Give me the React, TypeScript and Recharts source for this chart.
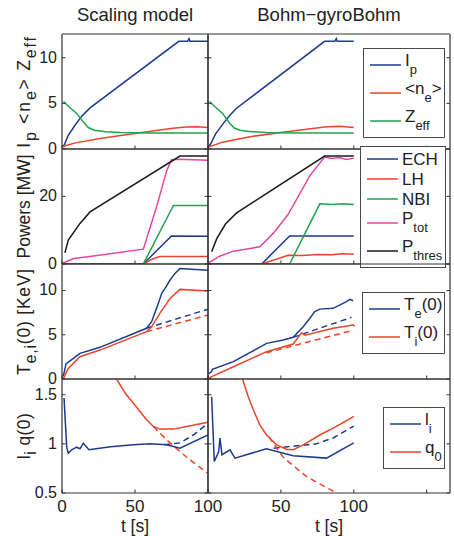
import React from 'react';
import { LineChart, Line, XAxis, YAxis, Legend } from 'recharts';

type Pt = [number, number];

// ---------- axes ----------
const T_TICKS_SCALING = [0, 50, 100];
const T_LABELS_SCALING = [0, 50, 100];
const T_TICKS_BGB = [0, 50, 100, 150];
const T_LABELS_BGB = [50, 100];
const T_DOMAIN_SCALING: [number, number] = [0, 100];
const T_DOMAIN_BGB: [number, number] = [0, 166];

const Y1_TICKS = [0, 5, 10];
const Y2_TICKS = [0, 20];
const Y3_TICKS = [0, 5, 10];
const Y4_TICKS = [0.5, 1, 1.5];

const COLUMN_TITLES = ['Scaling model', 'Bohm\u2212gyroBohm'];
const ROW_TITLES = ['I_{p} <n_{e}> Z_{eff}', 'Powers [MW]', 'T_{e,i}(0) [KeV]', 'l_{i} q(0)'];
const TIME_LABEL = 't [s]';

// ---------- row 1: plasma current, density, Zeff ----------
const IP_SCALING: Pt[] = [[0.5, 0.3], [1.6, 0.45], [4.3, 1.5], [8.9, 2.6], [13.5, 3.6], [19.2, 4.5], [80, 11.8], [86, 11.8], [87, 12.1], [87.6, 11.8], [100, 11.8]];
const NE_SCALING: Pt[] = [[0.5, 0.2], [2, 0.35], [10, 0.7], [26, 1.15], [51, 1.72], [76, 2.27], [85, 2.42], [93, 2.43], [100, 2.35]];
const ZEFF_SCALING: Pt[] = [[1, 5.2], [5, 4.6], [10, 3.9], [15, 2.9], [18, 2.35], [22, 2.05], [30, 1.9], [40, 1.82], [60, 1.76], [100, 1.75]];
const IP_BGB: Pt[] = [[0.5, 0.3], [1.8, 0.55], [5, 1.6], [10, 2.7], [15, 3.7], [19.6, 4.47], [80, 11.8], [87, 11.8], [88, 12.1], [88.6, 11.8], [100, 11.8]];
const NE_BGB: Pt[] = [[0.5, 0.2], [2, 0.3], [10, 0.75], [28.8, 1.35], [53.9, 1.9], [80, 2.42], [90, 2.48], [100, 2.35]];
const ZEFF_BGB: Pt[] = [[1, 5.2], [5, 4.6], [10, 3.9], [15, 2.8], [18, 2.3], [22, 2.05], [30, 1.9], [40, 1.82], [60, 1.76], [100, 1.75]];

// ---------- row 2: heating powers ----------
const ECH_SCALING: Pt[] = [[0, 0], [55.7, 0], [75, 8.3], [100, 8.2]];
const LH_SCALING: Pt[] = [[0, 0], [55.7, 0], [62, 1.5], [67, 2.2], [100, 2.25]];
const NBI_SCALING: Pt[] = [[0, 0], [55.7, 0], [76.3, 17.3], [100, 17.3]];
const PTOT_SCALING: Pt[] = [[0.5, 0.3], [2, 0.5], [8, 1.6], [19, 2.2], [55.7, 4.4], [64.8, 16.9], [71.7, 27.6], [75, 30.8], [80, 31.0], [100, 30.7]];
const PTHRES_SCALING: Pt[] = [[2, 3.3], [4.3, 7.1], [12.3, 12], [19.2, 15.4], [80.8, 31.9], [100, 31.9]];
const ECH_BGB: Pt[] = [[0, 0], [36.8, 0], [56, 8.3], [100, 8.3]];
const LH_BGB: Pt[] = [[0, 0], [36.8, 0], [55, 2.6], [65, 2.5], [75, 2.8], [85, 2.7], [92, 3.0], [100, 2.9]];
const NBI_BGB: Pt[] = [[0, 0], [56, 0], [76.7, 17.8], [85, 17.6], [92, 17.8], [100, 17.6]];
const PTOT_BGB: Pt[] = [[0.5, 0.4], [2, 0.8], [8, 2.3], [17.4, 3.8], [35.6, 5.1], [45, 9.2], [55, 14.7], [70, 26.2], [80, 31.6], [85, 31.2], [90, 31.5], [95, 30.9], [100, 31.3]];
const PTHRES_BGB: Pt[] = [[2.5, 3.6], [6, 7.5], [12, 11.8], [19.6, 15.1], [80, 31.9], [100, 31.9]];

// ---------- row 3: central temperatures ----------
const TE_SCALING: Pt[] = [[0.5, 0.3], [1.4, 0.64], [2.7, 1.7], [12.3, 2.9], [26, 3.58], [57.9, 5.73], [61.4, 6.48], [66, 8.55], [68.3, 9.68], [70.6, 10.25], [74, 11.19], [77.4, 11.94], [80.8, 12.5], [100, 12.3]];
const TI_SCALING: Pt[] = [[0.5, 0.05], [1.4, 0.2], [4.3, 1.2], [12.3, 2.52], [26, 3.27], [57.9, 5.35], [61.4, 5.9], [67, 7.42], [74, 9.1], [80.8, 10.13], [100, 9.94]];
const TE_SCALING_REF: Pt[] = [[57.9, 5.73], [100, 7.9]];
const TI_SCALING_REF: Pt[] = [[57.9, 5.35], [100, 7.23]];
const TE_BGB: Pt[] = [[0.5, 0.6], [2.5, 0.83], [3, 1.1], [17.4, 1.96], [29, 3.0], [40.2, 4.03], [51.6, 4.4], [58.4, 4.71], [65.3, 5.91], [69.9, 6.86], [73, 7.6], [76.7, 7.9], [85.8, 7.99], [95, 8.74], [97.3, 9.0], [99.6, 8.85]];
const TI_BGB: Pt[] = [[0.5, 0.1], [2.5, 0.26], [17.4, 1.39], [40.2, 3.09], [58.4, 3.95], [64.2, 5.23], [66.5, 4.95], [85.8, 5.73], [99.6, 6.1], [100.5, 5.95]];
const TE_BGB_REF: Pt[] = [[58.4, 4.71], [98.4, 6.97]];
const TI_BGB_REF: Pt[] = [[40, 2.95], [98.4, 5.46]];

// ---------- row 4: internal inductance and central safety factor ----------
const LI_SCALING: Pt[] = [[1.4, 1.466], [3.2, 0.97], [4.3, 0.905], [6.6, 0.94], [10, 0.966], [12.3, 0.95], [14.6, 1.007], [18.5, 0.94], [33.3, 0.97], [48.8, 0.99], [60, 1.0], [71.7, 0.99], [80.8, 0.956], [100, 1.09]];
const LI_SCALING_REF: Pt[] = [[70, 0.99], [80.8, 1.01], [89.9, 1.09], [100, 1.21]];
const Q0_SCALING: Pt[] = [[34, 1.75], [37.4, 1.66], [43.2, 1.517], [48.8, 1.415], [53.4, 1.33], [57.9, 1.245], [62.6, 1.177], [67.1, 1.15], [76.3, 1.15], [85.4, 1.177], [100, 1.22]];
const Q0_SCALING_REF: Pt[] = [[62.6, 1.177], [71.7, 1.04], [85.4, 0.864], [100, 0.7]];
const LI_BGB: Pt[] = [[2.5, 1.48], [4.3, 0.82], [7.3, 0.92], [8.2, 1.06], [9.6, 0.89], [15.1, 0.94], [18.5, 0.854], [40, 0.95], [58.4, 0.88], [81.3, 0.855], [100, 1.01]];
const LI_BGB_REF: Pt[] = [[45, 0.955], [51.6, 0.966], [74.4, 1.0], [85.8, 1.06], [100, 1.18]];
const Q0_BGB: Pt[] = [[21, 1.78], [23.7, 1.66], [27.6, 1.48], [31, 1.35], [35.6, 1.19], [40.2, 1.09], [47, 0.99], [53.9, 0.945], [58.4, 0.94], [65.3, 0.99], [76.7, 1.09], [88.1, 1.177], [100, 1.28]];
const Q0_BGB_REF: Pt[] = [[41.8, 1.07], [51.6, 0.864], [67.6, 0.666], [88.1, 0.5], [95, 0.43]];

// ---------- styling ----------
const FONT = '"Liberation Sans", Arial, Helvetica, sans-serif';
const INK = '#222';
const FRAME = '#333';
const BLUE = '#1c3b8f';
const RED = '#e8462c';
const GREEN = '#22a24c';
const MAGENTA = '#e8459e';
const BLACK = '#1a1a1a';
const TICK = 3.5;
const LINE_W = 1.5;

type Seg = { text: string; sub: boolean };
function parseSegs(s: string): Seg[] {
  const out: Seg[] = [];
  const re = /_\{([^}]*)\}/g;
  let last = 0;
  let m: RegExpExecArray | null;
  while ((m = re.exec(s))) {
    if (m.index > last) out.push({ text: s.slice(last, m.index), sub: false });
    out.push({ text: m[1], sub: true });
    last = re.lastIndex;
  }
  if (last < s.length) out.push({ text: s.slice(last), sub: false });
  return out;
}

const toRows = (pts: Pt[]) => pts.map(([t, v]) => ({ t, v }));

interface Series { name: string; data: Pt[]; color: string; dashed?: boolean }
interface LegendCfg { left: number; top: number; width: number }

function LegendBox({ items, box }: { items: Series[]; box: LegendCfg }) {
  return (
    <div style={{ position: 'absolute', left: box.left, top: box.top, width: box.width, boxSizing: 'border-box', border: '1px solid #4a4a4a', background: '#fff', padding: '2px 0', fontFamily: FONT, color: INK }}>
      {items.map((e) => {
        const segs = parseSegs(e.name);
        const hasSub = segs.some((s) => s.sub);
        return (
          <div key={e.name} style={{ display: 'flex', alignItems: 'center', height: hasSub ? 28 : 20 }}>
            <svg width={37} height={4} style={{ display: 'block', flex: 'none' }}>
              <line x1={6} x2={37} y1={2} y2={2} stroke={e.color} strokeWidth={LINE_W} />
            </svg>
            <span style={{ marginLeft: 4, fontSize: 17, lineHeight: '17px', whiteSpace: 'nowrap' }}>
              {segs.map((s, i) => (s.sub
                ? <span key={i} style={{ fontSize: 13, verticalAlign: '-8px' }}>{s.text}</span>
                : <span key={i}>{s.text}</span>))}
            </span>
          </div>
        );
      })}
    </div>
  );
}

function YTitle({ viewBox, text, spacing }: any) {
  const cy = viewBox.y + viewBox.height / 2;
  const cx = 30;
  let shifted = false;
  return (
    <text transform={`translate(${cx},${cy}) rotate(-90)`} textAnchor="middle" fontSize={17.5} fontFamily={FONT} fill={INK} style={{ whiteSpace: 'pre', letterSpacing: spacing }}>
      {parseSegs(text).map((s, i) => {
        const dy = s.sub ? (shifted ? 0 : 6) : (shifted ? -6 : 0);
        shifted = s.sub;
        return <tspan key={i} dy={dy} fontSize={s.sub ? 16 : 17.5}>{s.text}</tspan>;
      })}
    </text>
  );
}

interface PanelProps {
  col: number;
  plotTop: number;
  plotH: number;
  first: boolean;
  last: boolean;
  xDomain: [number, number];
  xTicks: number[];
  xLabels: number[];
  yDomain: [number, number];
  yTicks: number[];
  series: Series[];
  yTitle?: string;
  yTitleSpacing?: number;
  title?: string;
  legend?: LegendCfg;
}

function Panel(p: PanelProps) {
  const yAxisW = p.col === 0 ? 62 : 4;
  const rightW = p.col === 0 ? 24 : 4;
  const plotW = p.col === 0 ? 146 : 242;
  const chartLeft = p.col === 0 ? 0 : 204;
  const topH = p.first ? p.plotTop : 10;
  const bottomH = p.last ? 536 - (p.plotTop + p.plotH) : 10;
  const chartTop = p.plotTop - topH;
  const width = yAxisW + plotW + rightW;
  const height = topH + p.plotH + bottomH;
  const showY = p.col === 0;
  const axisLine = { stroke: FRAME, strokeWidth: 1.2 };

  const bottomTick = (t: any) => (
    <g>
      <line x1={t.x} x2={t.x} y1={t.y} y2={t.y - TICK} stroke={FRAME} strokeWidth={1} />
      {p.last && p.xLabels.includes(t.payload.value) && (
        <text x={t.x} y={t.y + 19} textAnchor="middle" fontSize={17} fontFamily={FONT} fill={INK}>{t.payload.value}</text>
      )}
    </g>
  );
  const topTick = (t: any) => (
    <line x1={t.x} x2={t.x} y1={t.y} y2={t.y + TICK} stroke={FRAME} strokeWidth={1} />
  );
  const leftTick = (t: any) => (
    <g>
      <line x1={t.x} x2={t.x + TICK} y1={t.y} y2={t.y} stroke={FRAME} strokeWidth={1} />
      {showY && (
        <text x={t.x - 5} y={t.y} dy="0.3em" textAnchor="end" fontSize={16} fontFamily={FONT} fill={INK}>{t.payload.value}</text>
      )}
    </g>
  );
  const rightTick = (t: any) => (
    <line x1={t.x} x2={t.x - TICK} y1={t.y} y2={t.y} stroke={FRAME} strokeWidth={1} />
  );

  const legendItems = p.series.filter((s) => !s.dashed);

  return (
    <div style={{ position: 'absolute', left: chartLeft, top: chartTop }}>
      <LineChart width={width} height={height} margin={{ top: 0, right: 0, bottom: 0, left: 0 }}>
        <XAxis
          xAxisId={0} type="number" dataKey="t" domain={p.xDomain} ticks={p.xTicks} interval={0}
          allowDataOverflow height={bottomH} orientation="bottom"
          tickSize={0} tickMargin={0} tickLine={false} axisLine={axisLine} tick={bottomTick}
          label={p.last ? (lp: any) => (
            <text x={lp.viewBox.x + lp.viewBox.width / 2} y={lp.viewBox.y + 39} textAnchor="middle" fontSize={17.5} fontFamily={FONT} fill={INK}>{TIME_LABEL}</text>
          ) : undefined}
        />
        <XAxis
          xAxisId="top" type="number" domain={p.xDomain} ticks={p.xTicks} interval={0}
          allowDataOverflow height={topH} orientation="top"
          tickSize={0} tickMargin={0} tickLine={false} axisLine={axisLine} tick={topTick}
          label={p.title ? (lp: any) => (
            <text x={lp.viewBox.x + lp.viewBox.width / 2} y={21} textAnchor="middle" fontSize={18.5} fontFamily={FONT} fill={INK}>{p.title}</text>
          ) : undefined}
        />
        <YAxis
          yAxisId={0} type="number" domain={p.yDomain} ticks={p.yTicks} interval={0}
          allowDataOverflow width={yAxisW} orientation="left"
          tickSize={0} tickMargin={0} tickLine={false} axisLine={axisLine} tick={leftTick}
          label={p.yTitle ? (lp: any) => <YTitle viewBox={lp.viewBox} text={p.yTitle} spacing={p.yTitleSpacing || 0} /> : undefined}
        />
        <YAxis
          yAxisId="right" type="number" domain={p.yDomain} ticks={p.yTicks} interval={0}
          allowDataOverflow width={rightW} orientation="right"
          tickSize={0} tickMargin={0} tickLine={false} axisLine={axisLine} tick={rightTick}
        />
        {p.series.map((s, i) => (
          <Line
            key={i} xAxisId={0} yAxisId={0} type="linear" data={toRows(s.data)} dataKey="v" name={s.name}
            stroke={s.color} strokeWidth={LINE_W} dot={false} activeDot={false}
            strokeDasharray={s.dashed ? '6 4' : undefined} legendType={s.dashed ? 'none' : 'line'}
            isAnimationActive={false}
          />
        ))}
        {p.legend && (
          <Legend
            wrapperStyle={{ left: 0, top: 0, width: 0, height: 0 }}
            content={() => (
              <LegendBox items={legendItems} box={{ left: p.legend!.left - chartLeft, top: p.legend!.top - chartTop, width: p.legend!.width }} />
            )}
          />
        )}
      </LineChart>
    </div>
  );
}

const ROW_TOPS = [34, 149, 264, 379];
const ROW_HEIGHTS = [115, 115, 115, 114];
const ROW_TITLE_SPACING = [1.8, 0, 0.8, 0.4];
const Y_DOMAINS: [number, number][] = [[0, 12.6], [0, 34], [0, 13], [0.5, 1.66]];
const Y_TICKS = [Y1_TICKS, Y2_TICKS, Y3_TICKS, Y4_TICKS];
const LEGENDS: LegendCfg[] = [
  { left: 363, top: 48, width: 82 },
  { left: 360, top: 146, width: 86 },
  { left: 362, top: 292, width: 83 },
  { left: 383, top: 407, width: 62 },
];

const SERIES: Series[][][] = [
  [
    [
      { name: 'I_{p}', data: IP_SCALING, color: BLUE },
      { name: '<n_{e}>', data: NE_SCALING, color: RED },
      { name: 'Z_{eff}', data: ZEFF_SCALING, color: GREEN },
    ],
    [
      { name: 'I_{p}', data: IP_BGB, color: BLUE },
      { name: '<n_{e}>', data: NE_BGB, color: RED },
      { name: 'Z_{eff}', data: ZEFF_BGB, color: GREEN },
    ],
  ],
  [
    [
      { name: 'ECH', data: ECH_SCALING, color: BLUE },
      { name: 'LH', data: LH_SCALING, color: RED },
      { name: 'NBI', data: NBI_SCALING, color: GREEN },
      { name: 'P_{tot}', data: PTOT_SCALING, color: MAGENTA },
      { name: 'P_{thres}', data: PTHRES_SCALING, color: BLACK },
    ],
    [
      { name: 'ECH', data: ECH_BGB, color: BLUE },
      { name: 'LH', data: LH_BGB, color: RED },
      { name: 'NBI', data: NBI_BGB, color: GREEN },
      { name: 'P_{tot}', data: PTOT_BGB, color: MAGENTA },
      { name: 'P_{thres}', data: PTHRES_BGB, color: BLACK },
    ],
  ],
  [
    [
      { name: 'Te ref', data: TE_SCALING_REF, color: BLUE, dashed: true },
      { name: 'Ti ref', data: TI_SCALING_REF, color: RED, dashed: true },
      { name: 'T_{e}(0)', data: TE_SCALING, color: BLUE },
      { name: 'T_{i}(0)', data: TI_SCALING, color: RED },
    ],
    [
      { name: 'Te ref', data: TE_BGB_REF, color: BLUE, dashed: true },
      { name: 'Ti ref', data: TI_BGB_REF, color: RED, dashed: true },
      { name: 'T_{e}(0)', data: TE_BGB, color: BLUE },
      { name: 'T_{i}(0)', data: TI_BGB, color: RED },
    ],
  ],
  [
    [
      { name: 'li ref', data: LI_SCALING_REF, color: BLUE, dashed: true },
      { name: 'q0 ref', data: Q0_SCALING_REF, color: RED, dashed: true },
      { name: 'l_{i}', data: LI_SCALING, color: BLUE },
      { name: 'q_{0}', data: Q0_SCALING, color: RED },
    ],
    [
      { name: 'li ref', data: LI_BGB_REF, color: BLUE, dashed: true },
      { name: 'q0 ref', data: Q0_BGB_REF, color: RED, dashed: true },
      { name: 'l_{i}', data: LI_BGB, color: BLUE },
      { name: 'q_{0}', data: Q0_BGB, color: RED },
    ],
  ],
];

export default function App() {
  const panels: React.ReactNode[] = [];
  for (let r = 0; r < 4; r++) {
    for (let c = 0; c < 2; c++) {
      panels.push(
        <Panel
          key={`${r}-${c}`}
          col={c}
          plotTop={ROW_TOPS[r]}
          plotH={ROW_HEIGHTS[r]}
          first={r === 0}
          last={r === 3}
          xDomain={c === 0 ? T_DOMAIN_SCALING : T_DOMAIN_BGB}
          xTicks={c === 0 ? T_TICKS_SCALING : T_TICKS_BGB}
          xLabels={c === 0 ? T_LABELS_SCALING : T_LABELS_BGB}
          yDomain={Y_DOMAINS[r]}
          yTicks={Y_TICKS[r]}
          series={SERIES[r][c]}
          yTitle={c === 0 ? ROW_TITLES[r] : undefined}
          yTitleSpacing={ROW_TITLE_SPACING[r]}
          title={r === 0 ? COLUMN_TITLES[c] : undefined}
          legend={c === 1 ? LEGENDS[r] : undefined}
        />,
      );
    }
  }
  return (
    <div style={{ position: 'absolute', left: 0, top: 0, width: 454, height: 536, background: '#fff', overflow: 'hidden' }}>
      {panels}
    </div>
  );
}
